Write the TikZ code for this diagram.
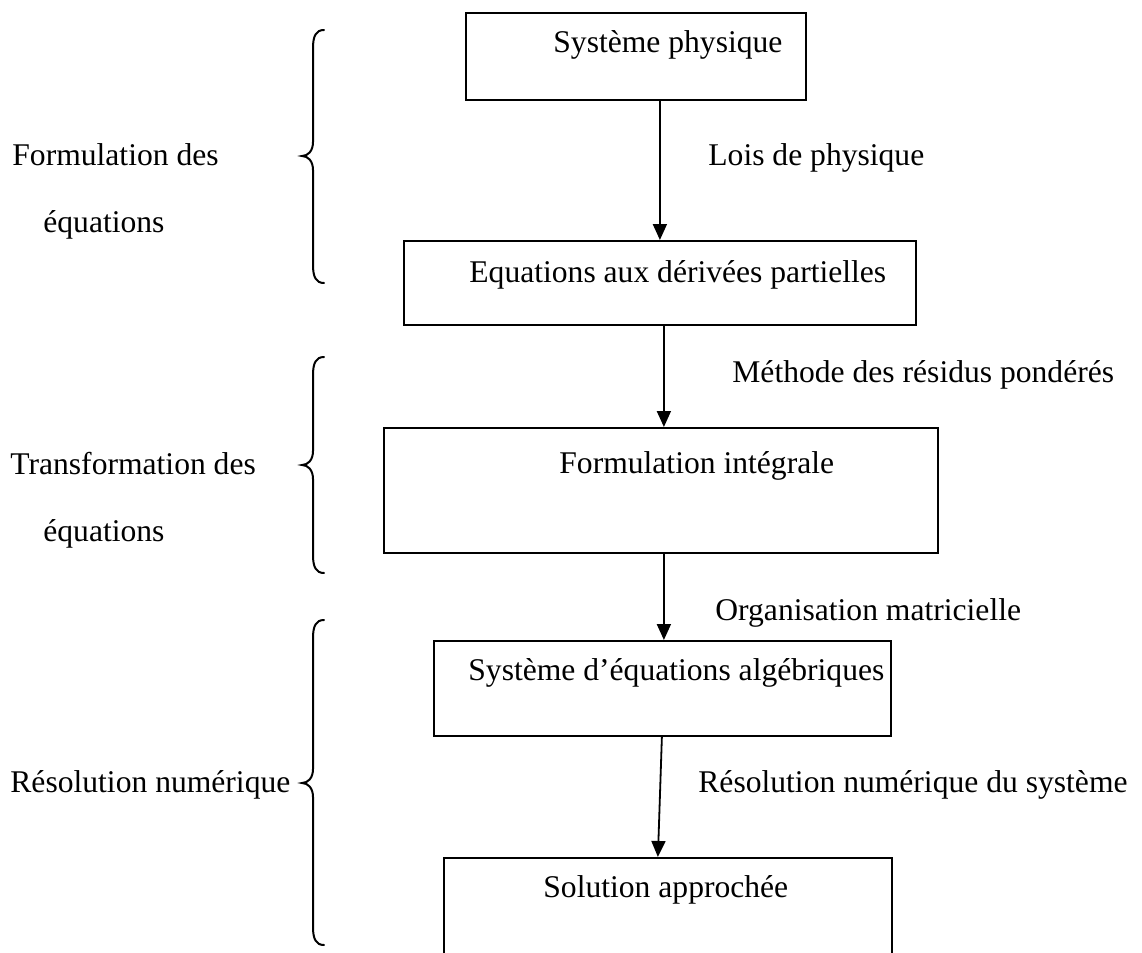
\documentclass[tikz,border=0pt]{standalone}
\usepackage{fontspec}
\setmainfont{Liberation Serif}
\usetikzlibrary{arrows.meta,calc}
\begin{document}
\begin{tikzpicture}[x=0.5pt,y=-0.5pt,
  box/.style={draw, line width=0.9pt, inner sep=0pt, anchor=north west},
  txt/.style={inner sep=0pt, anchor=base west, font=\fontsize{15.8}{19}\selectfont},
  arr/.style={line width=0.9pt, -{Triangle[length=8pt,width=7pt]}},
  brace/.style={line width=1pt, line cap=round}]
\fill[white] (0,0) rectangle (1142,953);
\clip (0,0) rectangle (1142,953);
% boxes
\node[box, minimum width=170pt, minimum height=43.5pt] (b1) at (465,12) {};
\node[box, minimum width=256pt, minimum height=42pt] (b2) at (403,240) {};
\node[box, minimum width=277pt, minimum height=62.5pt] (b3) at (383,427) {};
\node[box, minimum width=228.5pt, minimum height=47.5pt] (b4) at (433,640) {};
\node[box, minimum width=224pt, minimum height=70pt] (b5) at (443,857) {};
% box texts
\node[txt] (t1) at (553,53) {Système physique};
\node[txt] (t2) at (469,282) {Equations aux dérivées partielles};
\node[txt] (t3) at (559,473) {Formulation intégrale};
\node[txt] (t4) at (468,680) {Système d’équations algébriques};
\node[txt] (t5) at (543,897) {Solution approchée};
% arrow labels
\node[txt] (l1) at (708,165) {Lois de physique};
\node[txt] (l2) at (732,382) {Méthode des résidus pondérés};
\node[txt] (l3) at (715,620) {Organisation matricielle};
\node[txt] (l4) at (698,792) {Résolution numérique du système};
% left labels
\node[txt] (g1a) at (12,165) {Formulation des};
\node[txt] (g1b) at (43,232) {équations};
\node[txt] (g2a) at (10,474) {Transformation des};
\node[txt] (g2b) at (43,541) {équations};
\node[txt] (g3) at (10,792) {Résolution numérique};
% arrows
\draw[arr] ($(b1.south)+(24,0)$) -- ($(b2.north)+(0,0)$);
\draw[arr] ($(b2.south)+(4,0)$) -- ($(b3.north)+(3,0)$);
\draw[arr] ($(b3.south)+(3,0)$) -- ($(b4.north)+(1.5,0)$);
\draw[arr] ($(b4.south)+(-0.5,0)$) -- ($(b5.north)+(-10,0)$);
% braces
\foreach \t/\m/\b in {30/156/283, 357/465/573, 620/783/945}{
  \draw[brace] (324,\t) .. controls (316,\t) and (313,\t+6) .. (313,\t+18)
    -- (313,\m-14) .. controls (313,\m-5) and (308,\m) .. (302,\m)
    .. controls (308,\m) and (313,\m+5) .. (313,\m+14)
    -- (313,\b-18) .. controls (313,\b-6) and (316,\b) .. (324,\b);
}
\end{tikzpicture}
\end{document}
